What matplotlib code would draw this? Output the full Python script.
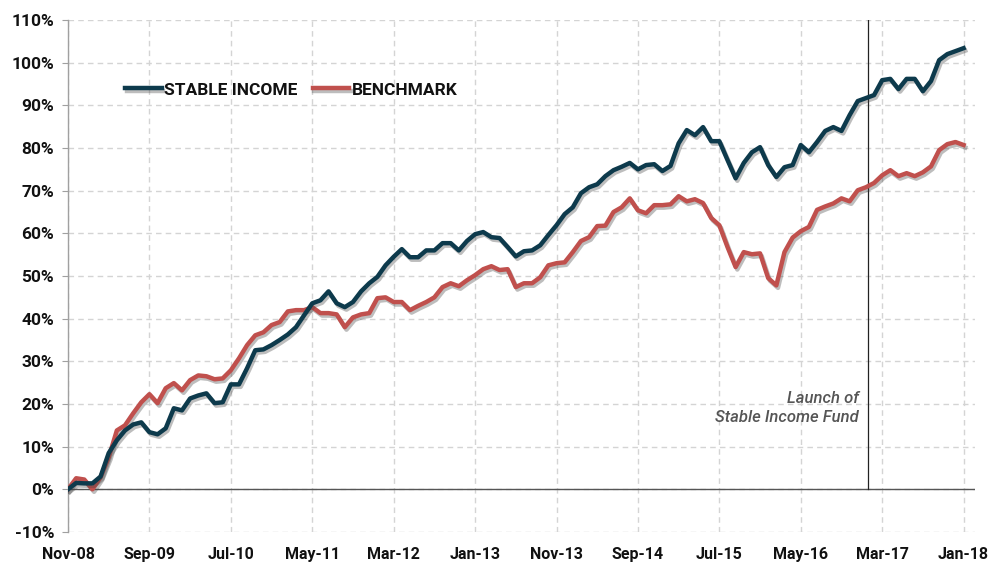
import matplotlib
matplotlib.use("Agg")
import matplotlib.pyplot as plt
import matplotlib.patheffects as pe
import numpy as np

# Monthly cumulative returns (%), Nov-2008 .. Jan-2018
stable_income = [
    0, 1.5, 1.4, 1.4, 3, 8.5, 11.5, 13.8, 15.2, 15.7,
    13.4, 12.9, 14.3, 19, 18.5, 21.3, 22, 22.5, 20.2, 20.4,
    24.6, 24.6, 28.4, 32.6, 32.8, 33.8, 35, 36.3, 38, 40.8,
    43.6, 44.3, 46.4, 43.6, 42.7, 43.9, 46.4, 48.3, 49.8, 52.5,
    54.5, 56.3, 54.4, 54.4, 56, 56, 57.7, 57.7, 56, 58.2,
    59.8, 60.3, 59.1, 58.9, 56.8, 54.6, 55.8, 56, 57.2, 59.6,
    61.9, 64.5, 66.1, 69.4, 70.8, 71.5, 73.4, 74.8, 75.6, 76.5,
    75, 76, 76.2, 74.6, 75.8, 81.1, 84.2, 83, 84.9, 81.6,
    81.6, 77.2, 72.9, 76.5, 79, 80.2, 76, 73.2, 75.5, 76,
    80.7, 79, 81.4, 84, 84.9, 84, 87.7, 91, 91.7, 92.4,
    95.9, 96.2, 93.8, 96.2, 96.2, 93.3, 95.7, 100.6, 102, 102.7,
    103.4,
]
benchmark = [
    0, 2.6, 2.3, 0, 2.8, 7.5, 13.8, 15, 17.8, 20.4,
    22.3, 20.2, 23.7, 24.9, 23.2, 25.6, 26.7, 26.5, 25.8, 26,
    27.9, 30.7, 33.8, 36.1, 36.8, 38.5, 39.2, 41.7, 42, 42,
    42.7, 41.3, 41.3, 41, 38, 40.3, 41, 41.3, 44.8, 45,
    43.9, 43.9, 42, 43, 43.9, 45, 47.4, 48.3, 47.6, 49,
    50.2, 51.6, 52.3, 51.4, 51.6, 47.4, 48.3, 48.3, 49.7, 52.5,
    53, 53.2, 55.6, 58.2, 59.1, 61.7, 61.8, 65, 66.1, 68.2,
    65.4, 64.7, 66.6, 66.6, 66.8, 68.7, 67.5, 68, 67.1, 63.6,
    61.9, 56.8, 52.1, 55.6, 55.1, 55.3, 49.5, 47.8, 55.6, 59,
    60.5, 61.5, 65.5, 66.3, 67, 68.2, 67.5, 70.1, 70.8, 71.8,
    73.6, 74.8, 73.4, 74.1, 73.4, 74.3, 75.7, 79.5, 80.9, 81.4,
    80.7,
]
x_tick_labels = ["Nov-08", "Sep-09", "Jul-10", "May-11", "Mar-12", "Jan-13",
                 "Nov-13", "Sep-14", "Jul-15", "May-16", "Mar-17", "Jan-18"]
y_ticks = list(range(-10, 111, 10))
launch_month = 98.2  # month index of fund launch marker
series_names = ["STABLE INCOME", "BENCHMARK"]

plt.rcParams['font.family'] = ['Roboto', 'DejaVu Sans']

fig = plt.figure(figsize=(9.88, 5.65), dpi=100)
ax = fig.add_axes([68/988, 1-532/565, (975-68)/988, (532-20)/565])

months = np.arange(len(stable_income))
dark = "#0d3a4c"
red = "#c0504d"
shadow = [pe.SimpleLineShadow(offset=(1.2, -1.8), shadow_color="#444444", alpha=0.35),
          pe.Normal()]

ax.plot(months, benchmark, color=red, lw=3.2, solid_joinstyle="round",
        path_effects=shadow, label=series_names[1], zorder=3)
ax.plot(months, stable_income, color=dark, lw=3.2, solid_joinstyle="round",
        path_effects=shadow, label=series_names[0], zorder=4)

ax.set_xlim(0, 111.4)
ax.set_ylim(-10, 110)
xt = np.arange(0, len(stable_income), 10)
ax.set_xticks(xt)
ax.set_xticklabels(x_tick_labels[:len(xt)])
ax.set_yticks(y_ticks)
ax.set_yticklabels([f"{v}%" for v in y_ticks])

ax.grid(True, color="#d4d4d4", linestyle=(0, (4, 3)), lw=1.0)
ax.set_axisbelow(True)
for s in ["top", "right", "bottom"]:
    ax.spines[s].set_visible(False)
ax.spines["left"].set_color("#a0a0a0")
ax.spines["left"].set_linewidth(1.0)
ax.axhline(0, color="#555555", lw=1.0, zorder=2)
ax.plot([launch_month, launch_month], [0, 110], color="#222222", lw=0.9, zorder=2)

ax.tick_params(axis="y", length=4, color="#a0a0a0", pad=6, labelsize=12.5)
ax.tick_params(axis="x", length=0, pad=11, labelsize=11.5)
for lab in ax.get_xticklabels() + ax.get_yticklabels():
    lab.set_fontweight("bold")
    lab.set_color("#111111")

ax.text(launch_month - 1.1, 19.0, "Launch of\nStable Income Fund", ha="right", va="center",
        fontsize=12, style="italic", fontweight="medium", color="#555555", linespacing=1.3)

handles, labels = ax.get_legend_handles_labels()
order = [1, 0]
leg = ax.legend([handles[i] for i in order], [labels[i] for i in order],
                loc="center left", bbox_to_anchor=(0.046, 1 - (90 - 20) / 512), ncol=2,
                frameon=False, prop={"weight": "bold", "size": 12.5}, handlelength=2.1,
                handletextpad=0.15, columnspacing=0.85)
for t in leg.get_texts():
    t.set_color("#111111")

fig.savefig("out.png", dpi=100)
